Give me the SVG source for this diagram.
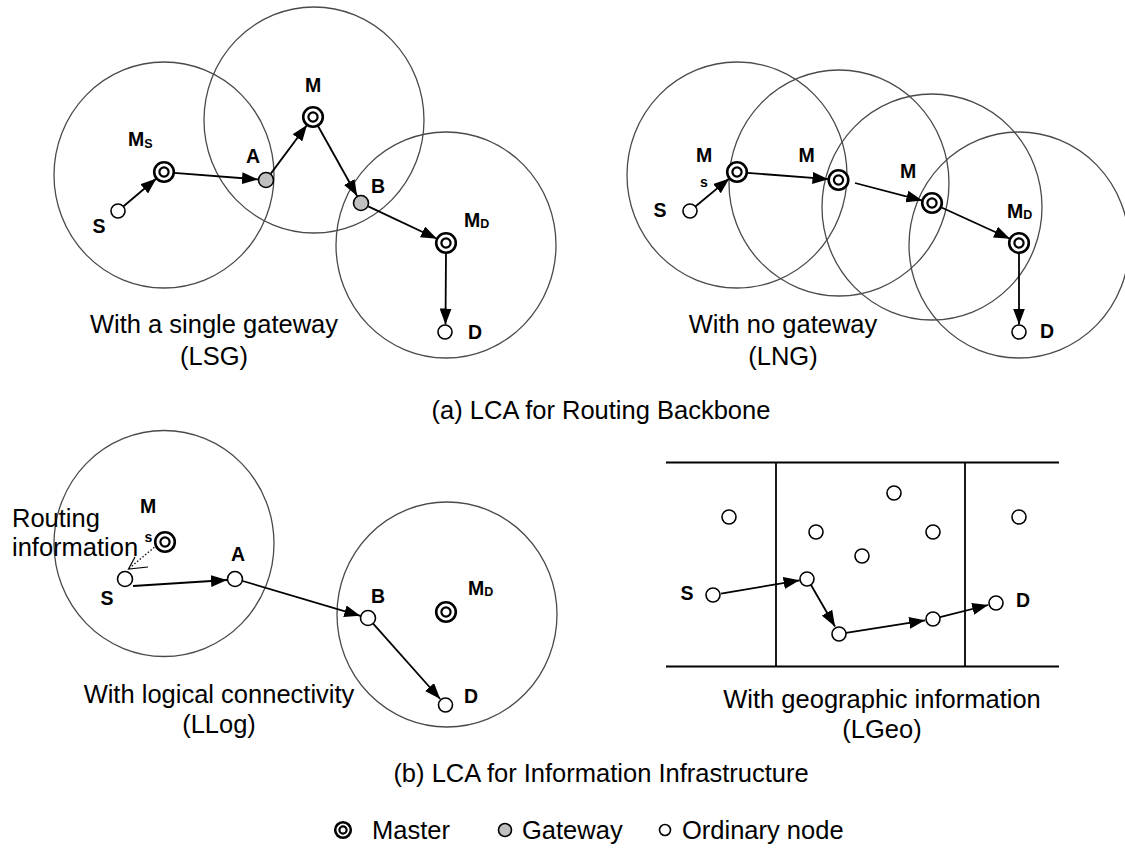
<svg xmlns="http://www.w3.org/2000/svg" width="1125" height="848" viewBox="0 0 1125 848">
<style>
.range{fill:none;stroke:#4a4a4a;stroke-width:1.3}
.ord{fill:#fff;stroke:#000;stroke-width:1.6}
.gw{fill:#c0c0c0;stroke:#000;stroke-width:1.6}
.mo{fill:#fff;stroke:#000;stroke-width:2.6}
.mi{fill:#fff;stroke:#000;stroke-width:2.2}
.lbl{font-family:"Liberation Sans",Arial,sans-serif;font-weight:bold;font-size:19.5px;fill:#000}
.mid{text-anchor:middle}
.sub{font-size:12.5px}
.s14{font-size:14px}
.cap{font-family:"Liberation Sans",Arial,sans-serif;font-size:25.5px;text-anchor:middle;fill:#000}
.leg{font-family:"Liberation Sans",Arial,sans-serif;font-size:25.5px;fill:#000}
.edge{stroke:#000;stroke-width:1.8;fill:none;marker-end:url(#ah)}
.dot{stroke:#000;stroke-width:1.2;fill:none;stroke-dasharray:1.5 2}
.line{stroke:#000;stroke-width:1.8;fill:none}
</style>
<defs>
<marker id="ah" markerUnits="userSpaceOnUse" markerWidth="16" markerHeight="12" refX="16" refY="6" orient="auto">
<path d="M0,0 L16,6 L0,12 z" fill="#000"/>
</marker>
<g id="master"><circle r="9.8" class="mo"/><circle r="4.6" class="mi"/></g>
</defs>
<rect width="1125" height="848" fill="#fff"/>

<!-- LSG -->
<g id="lsg-ranges">
<ellipse class="range" cx="164" cy="175" rx="110" ry="113"/>
<ellipse class="range" cx="314" cy="120" rx="110" ry="113"/>
<ellipse class="range" cx="446" cy="245" rx="110" ry="113"/>
</g>
<!-- LNG -->
<g id="lng-ranges">
<ellipse class="range" cx="737" cy="175" rx="110" ry="113"/>
<ellipse class="range" cx="839" cy="183" rx="110" ry="113"/>
<ellipse class="range" cx="932" cy="207" rx="110" ry="113"/>
<ellipse class="range" cx="1019" cy="245" rx="110" ry="113"/>
</g>
<!-- LLog -->
<g id="llog-ranges">
<ellipse class="range" cx="164" cy="543.5" rx="110" ry="113"/>
<ellipse class="range" cx="447" cy="614.5" rx="110" ry="112.5"/>
</g>
<!-- LGeo grid -->
<g id="lgeo-grid">
<line class="line" x1="666" y1="462.5" x2="1059" y2="462.5"/>
<line class="line" x1="666" y1="666.5" x2="1059" y2="666.5"/>
<line class="line" x1="776" y1="462.5" x2="776" y2="666.5"/>
<line class="line" x1="965" y1="462.5" x2="965" y2="666.5"/>
</g>

<g id="connectors">
<!-- LSG -->
<line class="edge" x1="123.3" y1="206.5" x2="156.4" y2="178.5"/>
<line class="edge" x1="174" y1="172.8" x2="258" y2="179.4"/>
<line class="edge" x1="270.8" y1="173.6" x2="307" y2="125"/>
<line class="edge" x1="318" y1="126" x2="357.1" y2="196"/>
<line class="edge" x1="368.2" y1="206.4" x2="437" y2="238.7"/>
<line class="edge" x1="446" y1="253" x2="445.5" y2="324.5"/>
<!-- LNG -->
<line class="edge" x1="695.4" y1="206.5" x2="729.3" y2="178.4"/>
<line class="edge" x1="747" y1="172.8" x2="828.5" y2="179.2"/>
<line class="edge" x1="855" y1="183" x2="922.3" y2="200.6"/>
<line class="edge" x1="941" y1="207.2" x2="1010" y2="238.8"/>
<line class="edge" x1="1019" y1="253" x2="1019" y2="324.5"/>
<!-- LLog -->
<line class="dot" x1="157" y1="545" x2="129" y2="568.5"/>
<polyline points="148,567 128.5,569 135,557" fill="none" stroke="#000" stroke-width="1.2"/>
<line class="edge" x1="133" y1="586" x2="227" y2="580"/>
<line class="edge" x1="242.7" y1="581" x2="360.3" y2="615.8"/>
<line class="edge" x1="372.7" y1="623.2" x2="440.2" y2="699"/>
<!-- LGeo -->
<line class="edge" x1="721" y1="593.6" x2="799.6" y2="580.3"/>
<line class="edge" x1="811" y1="585" x2="835" y2="626.5"/>
<line class="edge" x1="846" y1="632.9" x2="925.1" y2="620.3"/>
<line class="edge" x1="940" y1="617.2" x2="988.2" y2="605"/>
</g>

<!-- LSG nodes -->
<g id="lsg-S"><circle class="ord" cx="118" cy="211" r="7"/><text class="lbl mid" x="99" y="233">S</text></g>
<g id="lsg-MS"><use href="#master" x="164" y="172"/><text class="lbl" x="128" y="146">M<tspan class="sub" dy="2">S</tspan></text></g>
<g id="lsg-A"><circle class="gw" cx="266" cy="180" r="7.5"/><text class="lbl mid" x="253" y="163">A</text></g>
<g id="lsg-M"><use href="#master" x="313" y="117"/><text class="lbl mid" x="313" y="92">M</text></g>
<g id="lsg-B"><circle class="gw" cx="361" cy="203" r="7.5"/><text class="lbl mid" x="378" y="193">B</text></g>
<g id="lsg-MD"><use href="#master" x="446" y="243"/><text class="lbl" x="464" y="227">M<tspan class="sub" dy="1">D</tspan></text></g>
<g id="lsg-D"><circle class="ord" cx="445" cy="332" r="7"/><text class="lbl mid" x="475" y="339">D</text></g>

<!-- LNG nodes -->
<g id="lng-S"><circle class="ord" cx="690" cy="211" r="7"/><text class="lbl mid" x="660" y="217">S</text></g>
<g id="lng-MS"><use href="#master" x="737" y="172"/><text class="lbl mid" x="704" y="162">M</text><text class="lbl mid s14" x="704" y="187">s</text></g>
<g id="lng-M1"><use href="#master" x="838.5" y="180"/><text class="lbl mid" x="806.5" y="162">M</text></g>
<g id="lng-M2"><use href="#master" x="932" y="203"/><text class="lbl mid" x="908" y="178">M</text></g>
<g id="lng-MD"><use href="#master" x="1019" y="243"/><text class="lbl" x="1007" y="218">M<tspan class="sub" dy="1">D</tspan></text></g>
<g id="lng-D"><circle class="ord" cx="1019" cy="332" r="7"/><text class="lbl mid" x="1047" y="338">D</text></g>

<!-- LLog nodes -->
<g id="llog-MS"><use href="#master" x="165" y="542"/><text class="lbl mid" x="148" y="513">M</text><text class="lbl mid s14" x="148.5" y="542">s</text></g>
<g id="llog-S"><circle class="ord" cx="125" cy="579" r="7.5"/><text class="lbl mid" x="107" y="605">S</text></g>
<g id="llog-A"><circle class="ord" cx="235" cy="579" r="7.5"/><text class="lbl mid" x="238" y="561">A</text></g>
<g id="llog-B"><circle class="ord" cx="368" cy="618" r="7.5"/><text class="lbl mid" x="378" y="603">B</text></g>
<g id="llog-MD"><use href="#master" x="446" y="612"/><text class="lbl" x="468" y="595">M<tspan class="sub" dy="1">D</tspan></text></g>
<g id="llog-D"><circle class="ord" cx="445.5" cy="705" r="7"/><text class="lbl mid" x="471" y="703">D</text></g>
<g id="llog-routing-info"><text class="leg" x="12" y="527">Routing</text><text class="leg" x="12" y="556">information</text></g>

<!-- LGeo nodes -->
<g id="lgeo-n1"><circle class="ord" cx="729" cy="517" r="7"/></g>
<g id="lgeo-n2"><circle class="ord" cx="894" cy="493" r="7"/></g>
<g id="lgeo-n3"><circle class="ord" cx="816" cy="532" r="7"/></g>
<g id="lgeo-n4"><circle class="ord" cx="933" cy="532" r="7"/></g>
<g id="lgeo-n5"><circle class="ord" cx="862" cy="556" r="7"/></g>
<g id="lgeo-n6"><circle class="ord" cx="1019" cy="517" r="7"/></g>
<g id="lgeo-S"><circle class="ord" cx="713" cy="595" r="7"/><text class="lbl mid" x="687" y="600">S</text></g>
<g id="lgeo-p1"><circle class="ord" cx="807" cy="579" r="7"/></g>
<g id="lgeo-p2"><circle class="ord" cx="839" cy="634" r="7"/></g>
<g id="lgeo-p3"><circle class="ord" cx="933" cy="619" r="7"/></g>
<g id="lgeo-D"><circle class="ord" cx="996" cy="603" r="7"/><text class="lbl mid" x="1023" y="607">D</text></g>

<!-- captions -->
<g id="captions">
<text class="cap" x="214" y="333">With a single gateway</text>
<text class="cap" x="214" y="365">(LSG)</text>
<text class="cap" x="783" y="333">With no gateway</text>
<text class="cap" x="783" y="365">(LNG)</text>
<text class="cap" x="601" y="419">(a) LCA for Routing Backbone</text>
<text class="cap" x="219" y="703">With logical connectivity</text>
<text class="cap" x="219" y="733">(LLog)</text>
<text class="cap" x="882" y="708">With geographic information</text>
<text class="cap" x="882" y="738">(LGeo)</text>
<text class="cap" x="601" y="782">(b) LCA for Information Infrastructure</text>
</g>

<!-- legend -->
<g id="legend">
<g id="legend-master"><circle cx="343" cy="830" r="7.8" class="mo"/><circle cx="343" cy="830" r="3.6" class="mi"/><text class="leg" x="372" y="839">Master</text></g>
<g id="legend-gateway"><circle cx="505" cy="830" r="6.5" class="gw"/><text class="leg" x="522" y="839">Gateway</text></g>
<g id="legend-ordinary"><circle cx="665" cy="830" r="5.5" class="ord"/><text class="leg" x="682" y="839">Ordinary node</text></g>
</g>
</svg>
